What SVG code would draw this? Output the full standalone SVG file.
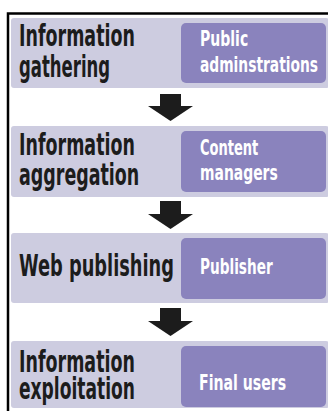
<svg xmlns="http://www.w3.org/2000/svg" width="328" height="411" viewBox="0 0 328 411">
<style>
.band{fill:#cdcce0}
.role{fill:#8a83bd}
.stage{font-family:"DejaVu Sans Condensed","DejaVu Sans","Liberation Sans",sans-serif;font-weight:bold;font-size:31px;fill:#1c1c1c}
.actor{font-family:"DejaVu Sans Condensed","DejaVu Sans","Liberation Sans",sans-serif;font-weight:bold;font-size:20.5px;fill:#ffffff}
.arrow{fill:#1c1c1c}
</style>
<rect x="0" y="0" width="328" height="411" fill="#ffffff"/>
<path d="M8 411 V13.5 H328" fill="none" stroke="#000000" stroke-width="2.5"/>
<g id="node1">
<rect class="band" x="11" y="18" width="318" height="70" rx="3"/>
<rect class="role" x="181" y="23" width="145" height="60" rx="5"/>
<text class="stage" transform="translate(19,46) scale(0.62,1)"><tspan x="0" y="0" textLength="187" lengthAdjust="spacingAndGlyphs">Information</tspan><tspan x="0" y="31" textLength="147" lengthAdjust="spacingAndGlyphs">gathering</tspan></text>
<text class="actor" transform="translate(200,46) scale(0.72,1)"><tspan x="0" y="0" textLength="67" lengthAdjust="spacingAndGlyphs">Public</tspan><tspan x="0" y="26" textLength="164" lengthAdjust="spacingAndGlyphs">adminstrations</tspan></text>
</g>
<g id="node2">
<rect class="band" x="11" y="126" width="318" height="71" rx="3"/>
<rect class="role" x="181" y="131" width="145" height="61" rx="5"/>
<text class="stage" transform="translate(19,155) scale(0.62,1)"><tspan x="0" y="0" textLength="187" lengthAdjust="spacingAndGlyphs">Information</tspan><tspan x="0" y="30" textLength="194" lengthAdjust="spacingAndGlyphs">aggregation</tspan></text>
<text class="actor" transform="translate(200,155) scale(0.72,1)"><tspan x="0" y="0" textLength="81" lengthAdjust="spacingAndGlyphs">Content</tspan><tspan x="0" y="25" textLength="108" lengthAdjust="spacingAndGlyphs">managers</tspan></text>
</g>
<g id="node3">
<rect class="band" x="11" y="233" width="318" height="70" rx="3"/>
<rect class="role" x="181" y="238" width="145" height="61" rx="5"/>
<text class="stage" transform="translate(19,276) scale(0.62,1)" textLength="250" lengthAdjust="spacingAndGlyphs">Web publishing</text>
<text class="actor" transform="translate(200,274) scale(0.72,1)" textLength="101" lengthAdjust="spacingAndGlyphs">Publisher</text>
</g>
<g id="node4">
<rect class="band" x="11" y="341" width="318" height="67" rx="3"/>
<rect class="role" x="181" y="346" width="145" height="61" rx="5"/>
<text class="stage" transform="translate(19,372) scale(0.62,1)"><tspan x="0" y="0" textLength="187" lengthAdjust="spacingAndGlyphs">Information</tspan><tspan x="0" y="27" textLength="187" lengthAdjust="spacingAndGlyphs">exploitation</tspan></text>
<text class="actor" transform="translate(199,390) scale(0.72,1)" textLength="121" lengthAdjust="spacingAndGlyphs">Final users</text>
</g>
<g id="connectors">
<path class="arrow" d="M160 94 H181 V106 H193 L170.5 121 L148 106 H160 Z"/>
<path class="arrow" d="M160 201 H181 V214 H193 L170.5 229 L148 214 H160 Z"/>
<path class="arrow" d="M160 308 H181 V321 H193 L170.5 336 L148 321 H160 Z"/>
</g>
</svg>
